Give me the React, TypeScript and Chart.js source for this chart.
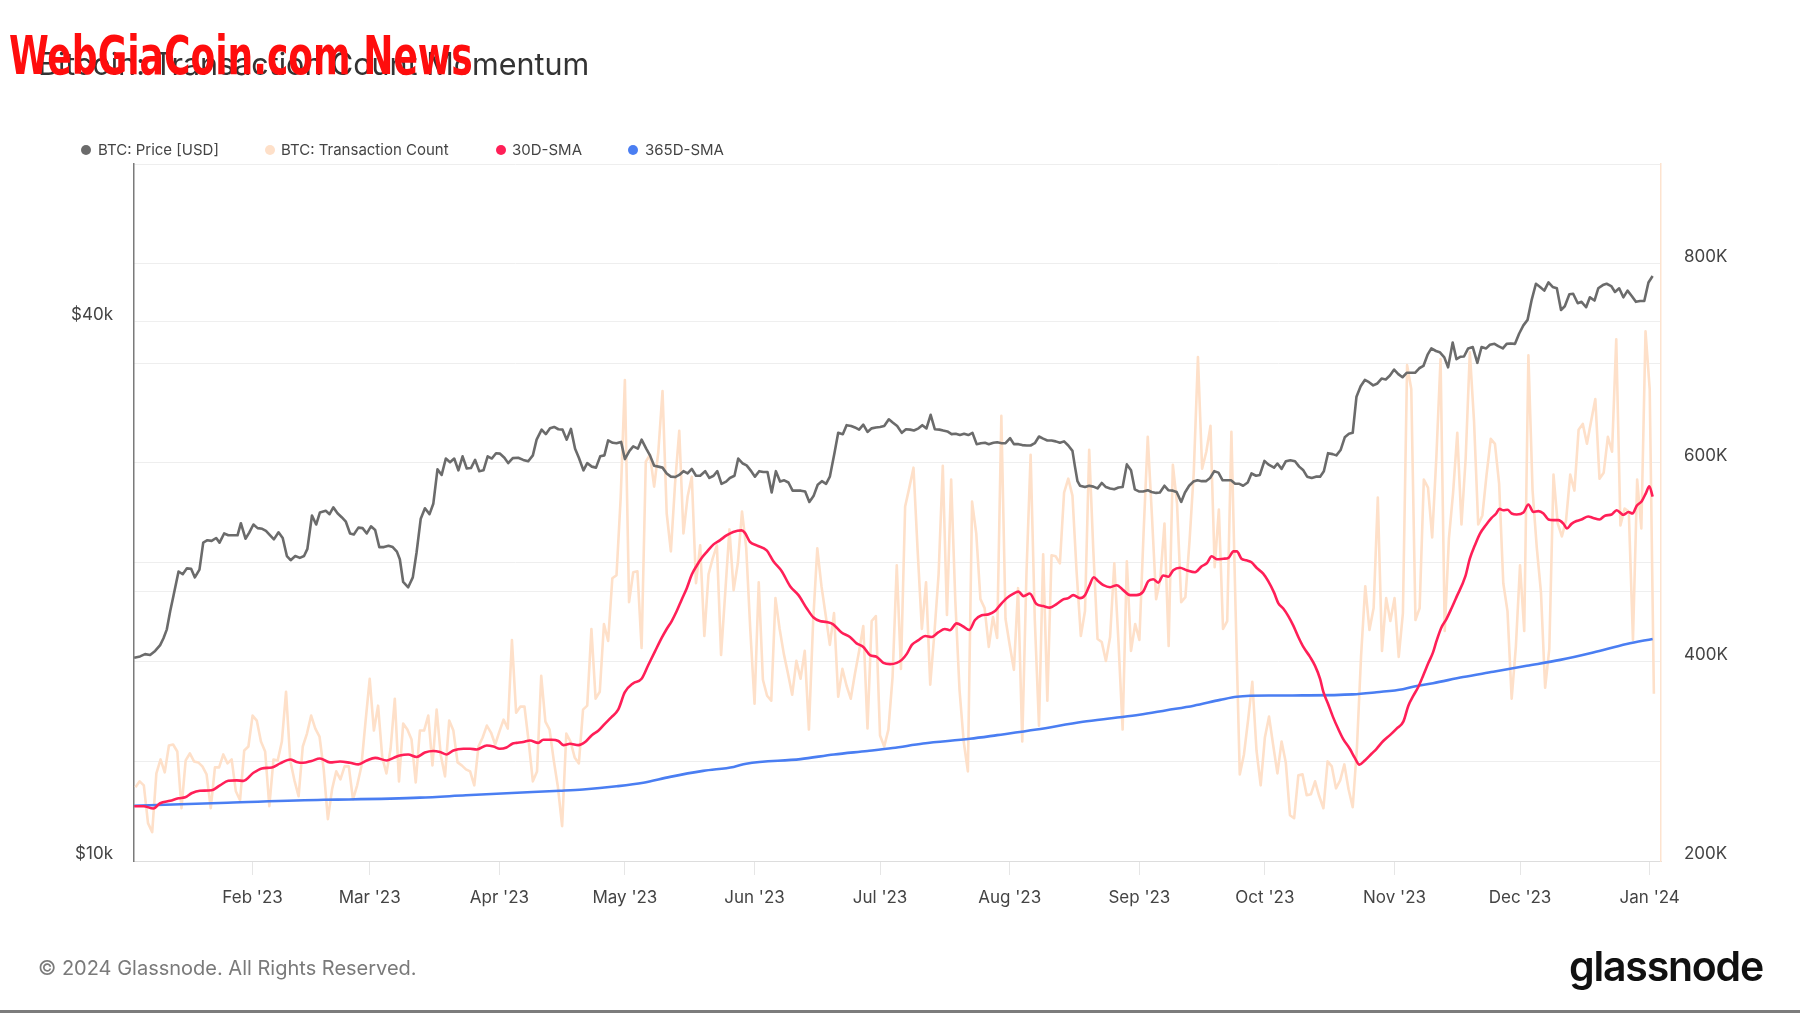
import React, { useEffect, useRef } from "react";
import { Chart, registerables } from "chart.js";

Chart.register(...registerables);

// x values are day offsets from 1 Jan 2023 (0 = Jan 1 2023, 365 = Jan 1 2024)
const monthTickDays = [31, 59, 90, 120, 151, 181, 212, 243, 273, 304, 334, 365];
const monthTickLabels = ["Feb '23", "Mar '23", "Apr '23", "May '23", "Jun '23", "Jul '23", "Aug '23", "Sep '23", "Oct '23", "Nov '23", "Dec '23", "Jan '24"];

// left axis (price, $k, log scale)
const priceTickValues = [10, 20, 40];
const priceTickLabels = ["$10k", "", "$40k"];
// right axis (transaction count, thousands)
const txTickValues = [200, 300, 400, 500, 600, 700, 800, 900];
const txTickLabels = ["200K", "", "400K", "", "600K", "", "800K", ""];

const seriesNames = ["BTC: Price [USD]", "BTC: Transaction Count", "30D-SMA", "365D-SMA"];

// BTC price in $k
const priceDays = [
  2.7, 4.1, 5.3, 6.5, 7.7, 8.9, 9.7, 10.5, 11.3, 12.1, 13.3, 14.3, 15.3, 16.3, 17.2, 18.3, 19.2, 20.2, 21.2, 22.3,
  23.1, 24.2, 25.2, 26.4, 27.4, 28.2, 29.3, 30.2, 31.2, 32.2, 33.3, 34.2, 35.2, 36.1, 37.2, 38.2, 39.2, 40.1, 41.2, 42.3,
  43.3, 44.1, 45.2, 46.2, 47.1, 48.5, 49.4, 50.3, 51.3, 52.3, 53.3, 54.3, 55.2, 56.3, 57.3, 58.3, 59.3, 60.3, 61.3, 62.4,
  63.5, 64.5, 65.5, 66.2, 67.0, 68.2, 69.3, 70.2, 71.2, 72.2, 73.3, 74.2, 75.2, 76.2, 77.2, 78.2, 79.2, 80.2, 81.2, 82.2,
  83.2, 84.2, 85.2, 86.2, 87.2, 88.2, 89.2, 90.1, 91.2, 92.1, 93.2, 94.5, 95.7, 96.9, 98.0, 98.9, 100.1, 101.1, 102.1, 103.1,
  104.1, 105.1, 106.1, 107.1, 108.1, 109.0, 110.1, 111.0, 112.1, 113.1, 114.1, 115.1, 116.0, 117.1, 118.0, 119.1, 120.0, 121.1, 122.0, 123.1,
  124.0, 125.1, 126.0, 127.0, 128.0, 129.0, 130.0, 131.0, 132.0, 133.0, 134.0, 135.0, 136.0, 137.0, 138.0, 139.2, 140.2, 141.2, 142.1, 143.1,
  144.2, 145.1, 146.2, 147.1, 148.2, 149.1, 150.2, 151.1, 152.1, 153.1, 154.1, 155.1, 156.1, 157.1, 158.1, 159.1, 160.1, 161.1, 162.1, 163.1,
  164.1, 165.1, 166.1, 167.1, 168.1, 169.0, 170.1, 171.0, 172.1, 173.0, 174.1, 175.0, 176.0, 177.0, 178.0, 179.0, 180.0, 181.0, 182.0, 183.1,
  184.1, 185.1, 186.2, 187.2, 188.2, 189.1, 190.2, 191.1, 192.1, 193.1, 194.1, 195.2, 196.1, 197.1, 198.1, 199.1, 200.1, 201.1, 202.1, 203.1,
  204.1, 205.1, 206.1, 207.0, 208.1, 209.0, 210.1, 211.0, 212.1, 213.0, 214.1, 215.0, 216.1, 217.0, 218.0, 219.0, 220.0, 221.0, 222.0, 223.0,
  224.0, 225.0, 226.0, 227.0, 227.6, 228.2, 228.8, 230.0, 231.0, 232.0, 233.0, 234.0, 235.0, 236.0, 237.0, 238.0, 239.0, 240.0, 241.0, 241.9,
  243.0, 243.9, 245.0, 245.9, 247.0, 247.9, 249.0, 249.9, 251.0, 251.9, 253.0, 253.9, 254.9, 255.9, 256.9, 257.9, 258.9, 259.9, 260.9, 261.9,
  262.9, 263.9, 264.9, 265.9, 266.9, 267.8, 268.9, 269.8, 270.9, 271.8, 272.9, 273.8, 275.2, 276.0, 277.0, 278.0, 279.1, 280.2, 281.2, 282.2,
  283.1, 284.2, 285.2, 286.2, 287.1, 288.1, 289.2, 290.1, 291.1, 292.1, 293.1, 294.0, 294.9, 295.9, 296.9, 297.9, 298.9, 299.9, 300.9, 301.9,
  302.9, 303.9, 304.9, 305.9, 306.9, 307.9, 308.9, 309.9, 310.9, 311.9, 312.8, 313.9, 314.8, 315.9, 316.8, 317.9, 318.8, 319.8, 320.6, 321.6,
  322.7, 323.8, 324.8, 325.9, 326.8, 327.9, 328.8, 329.9, 330.8, 331.8, 332.8, 333.8, 334.8, 335.8, 336.8, 337.8, 338.8, 339.8, 340.8, 341.8,
  342.8, 343.8, 344.7, 345.8, 346.7, 347.8, 348.7, 349.8, 350.7, 351.8, 352.7, 353.8, 354.7, 355.8, 356.7, 357.7, 358.7, 359.7, 360.7, 361.7,
  362.7, 363.7, 364.7, 365.7,
];
const priceUsdK = [
  16.86, 16.92, 17.02, 16.98, 17.16, 17.42, 17.73, 18.14, 19.0, 19.79, 21.05, 20.9, 21.22, 21.2, 20.73, 21.15, 22.67, 22.81, 22.77, 22.94,
  22.67, 23.21, 23.1, 23.1, 23.1, 23.83, 22.9, 23.26, 23.75, 23.53, 23.49, 23.37, 23.1, 22.86, 23.28, 22.94, 21.9, 21.67, 21.9, 21.8,
  21.9, 22.31, 24.31, 23.75, 24.5, 24.6, 24.39, 24.82, 24.45, 24.2, 23.92, 23.21, 23.15, 23.56, 23.53, 23.21, 23.64, 23.42, 22.41, 22.41,
  22.49, 22.41, 22.15, 21.72, 20.49, 20.21, 20.73, 22.1, 24.11, 24.76, 24.39, 25.05, 27.37, 26.98, 28.14, 27.88, 28.14, 27.3, 28.3, 27.43,
  27.46, 28.04, 27.24, 27.3, 28.3, 28.14, 28.53, 28.5, 28.2, 27.81, 28.17, 28.2, 28.04, 27.94, 28.37, 29.54, 30.31, 29.96, 30.41, 30.52,
  30.34, 30.31, 29.54, 30.37, 28.86, 28.2, 27.3, 27.81, 27.56, 27.49, 28.3, 28.37, 29.48, 29.3, 29.27, 29.37, 28.1, 28.7, 29.03, 28.86,
  29.54, 28.86, 28.37, 27.62, 27.56, 27.49, 27.08, 26.86, 26.83, 26.98, 27.24, 27.08, 27.4, 26.92, 26.92, 27.24, 26.77, 26.92, 27.24, 26.37,
  26.52, 26.77, 26.92, 28.14, 27.78, 27.65, 27.24, 26.86, 27.24, 27.18, 27.18, 25.79, 27.24, 26.52, 26.61, 26.46, 25.91, 25.91, 25.91, 25.85,
  25.17, 25.55, 26.31, 26.55, 26.37, 26.86, 28.53, 30.06, 29.96, 30.66, 30.59, 30.48, 30.31, 30.7, 30.13, 30.41, 30.48, 30.52, 30.59, 31.13,
  30.85, 30.59, 30.06, 30.34, 30.31, 30.24, 30.41, 30.66, 30.41, 31.49, 30.34, 30.31, 30.24, 30.17, 29.96, 29.99, 29.89, 29.99, 29.89, 30.06,
  29.2, 29.27, 29.3, 29.2, 29.3, 29.34, 29.27, 29.27, 29.65, 29.2, 29.2, 29.13, 29.1, 29.1, 29.27, 29.78, 29.62, 29.48, 29.48, 29.41,
  29.3, 29.41, 29.1, 28.7, 27.56, 26.55, 26.24, 26.15, 26.24, 26.18, 26.06, 26.43, 26.15, 26.06, 26.0, 26.12, 26.15, 27.72, 27.3, 26.0,
  25.85, 25.85, 25.94, 25.82, 25.76, 25.79, 26.24, 25.94, 25.91, 25.82, 25.17, 25.79, 26.24, 26.52, 26.61, 26.55, 26.55, 26.77, 27.24, 27.14,
  26.61, 26.61, 26.61, 26.37, 26.37, 26.24, 26.46, 27.08, 26.92, 26.98, 27.97, 27.72, 27.49, 27.78, 27.4, 27.94, 28.01, 27.94, 27.56, 27.3,
  26.86, 26.77, 26.86, 26.86, 27.24, 28.53, 28.46, 28.37, 28.76, 29.72, 29.99, 30.06, 32.99, 33.88, 34.44, 34.24, 33.96, 34.13, 34.56, 34.48,
  34.84, 35.37, 34.96, 34.68, 35.08, 35.08, 35.08, 35.49, 35.7, 36.75, 37.35, 37.1, 36.99, 36.5, 35.57, 37.92, 36.33, 36.56, 36.58, 37.35,
  37.48, 35.99, 37.48, 37.35, 37.7, 37.79, 37.57, 37.35, 37.79, 37.83, 37.79, 38.81, 39.63, 40.19, 42.34, 44.1, 43.74, 43.33, 44.25, 43.74,
  43.59, 41.23, 41.62, 42.93, 42.98, 41.95, 42.1, 41.52, 42.59, 42.24, 43.59, 43.95, 44.1, 43.84, 43.18, 43.59, 42.59, 43.33, 42.74, 42.1,
  42.19, 42.19, 44.25, 44.98,
];

// BTC daily transaction count in thousands, one value per day starting 3 Jan 2023
const txFirstDay = 3;
const txCountK = [
  274, 280, 276, 238, 229, 288, 302, 289, 316, 317, 310, 253, 301, 308, 300, 299, 295, 287, 253, 294,
  294, 307, 298, 302, 270, 261, 311, 315, 346, 341, 320, 310, 255, 302, 301, 320, 370, 301, 281, 265,
  315, 328, 346, 333, 325, 292, 242, 272, 290, 282, 295, 295, 262, 276, 295, 340, 383, 331, 356, 304,
  288, 313, 363, 280, 338, 332, 322, 279, 331, 331, 346, 296, 352, 306, 285, 341, 331, 299, 296, 292,
  290, 276, 315, 324, 336, 329, 317, 330, 342, 333, 422, 349, 355, 355, 320, 280, 290, 386, 340, 332,
  301, 274, 235, 328, 320, 304, 298, 352, 356, 433, 363, 370, 438, 421, 484, 487, 565, 683, 460, 490,
  491, 414, 601, 608, 576, 611, 672, 549, 511, 579, 632, 529, 566, 586, 479, 517, 426, 488, 504, 517,
  407, 470, 533, 472, 499, 551, 515, 431, 358, 480, 382, 366, 361, 464, 433, 408, 388, 367, 401, 383,
  411, 332, 440, 514, 476, 447, 417, 449, 365, 393, 376, 363, 388, 411, 436, 333, 441, 446, 326, 315,
  332, 385, 497, 393, 556, 575, 595, 511, 433, 480, 377, 429, 488, 597, 447, 583, 461, 372, 320, 290,
  561, 529, 463, 454, 415, 445, 424, 647, 443, 417, 392, 474, 320, 488, 608, 442, 336, 508, 361, 507,
  506, 499, 570, 584, 567, 490, 426, 451, 613, 511, 423, 420, 401, 425, 499, 420, 332, 501, 411, 438,
  422, 529, 626, 547, 463, 483, 539, 416, 598, 559, 460, 465, 522, 590, 706, 594, 611, 637, 495, 553,
  433, 441, 631, 452, 287, 307, 342, 380, 311, 276, 324, 345, 316, 288, 320, 299, 246, 243, 286, 287,
  266, 267, 280, 265, 253, 300, 295, 273, 281, 297, 272, 254, 313, 406, 476, 432, 454, 565, 411, 464,
  441, 464, 405, 449, 698, 674, 442, 454, 583, 575, 525, 606, 704, 431, 524, 570, 630, 538, 604, 711,
  642, 538, 547, 588, 624, 619, 579, 479, 451, 363, 415, 497, 431, 708, 572, 515, 470, 374, 413, 588,
  539, 526, 542, 588, 572, 633, 639, 619, 642, 664, 584, 590, 626, 611, 724, 537, 554, 551, 422, 583,
  534, 732, 674, 368,
];

// 30-day SMA of transaction count, thousands
const sma30Days = [
  2.7, 4.9, 7.3, 8.9, 11.3, 13.3, 14.9, 16.4, 18.4, 21.2, 23.2, 25.2, 27.2, 28.8, 31.2, 33.2, 35.6, 37.6, 40.0, 41.5,
  43.1, 45.1, 47.1, 49.5, 51.9, 54.3, 56.3, 58.3, 60.3, 63.1, 64.7, 66.2, 68.2, 70.2, 72.2, 74.2, 75.8, 77.4, 79.0, 81.4,
  83.0, 84.6, 87.0, 88.6, 90.1, 91.7, 93.2, 94.1, 95.7, 97.3, 99.3, 100.5, 102.5, 104.1, 105.3, 106.9, 108.9, 110.5, 112.1, 113.7,
  115.2, 116.8, 118.4, 120.0, 122.0, 124.0, 125.6, 127.2, 128.8, 130.0, 131.2, 132.4, 133.6, 134.8, 136.0, 137.2, 138.4, 139.6, 141.2, 142.7,
  144.3, 145.9, 147.9, 148.7, 149.9, 151.5, 153.9, 155.5, 157.5, 159.5, 161.5, 163.5, 165.1, 166.6, 168.2, 169.8, 171.8, 173.8, 175.4, 177.0,
  178.6, 180.2, 181.8, 183.4, 185.0, 186.2, 187.4, 188.6, 190.2, 191.8, 193.3, 194.9, 196.5, 197.7, 199.3, 200.9, 202.3, 203.7, 205.3, 206.9,
  208.5, 209.7, 211.3, 212.9, 214.1, 215.3, 216.8, 218.4, 220.0, 221.6, 223.2, 224.8, 226.0, 227.2, 228.8, 230.0, 231.0, 232.1, 233.2, 234.4,
  236.0, 237.6, 239.2, 240.8, 242.3, 243.9, 245.1, 246.3, 247.5, 248.7, 249.9, 251.1, 252.7, 254.3, 256.3, 257.9, 259.1, 260.3, 261.5, 263.1,
  264.3, 265.5, 266.3, 267.4, 268.6, 269.8, 271.0, 272.6, 273.8, 275.2, 276.2, 277.4, 278.6, 279.8, 281.0, 282.2, 283.8, 285.0, 286.2, 287.0,
  288.1, 289.3, 290.5, 291.7, 293.3, 294.5, 295.6, 296.9, 298.5, 299.7, 301.3, 302.9, 304.5, 306.1, 307.3, 308.5, 309.7, 310.9, 312.1, 313.2,
  314.0, 315.2, 316.4, 317.6, 318.8, 320.9, 322.0, 323.2, 324.4, 325.9, 327.2, 328.3, 329.1, 330.0, 331.0, 332.0, 333.2, 334.8, 336.0, 337.2,
  338.4, 339.6, 340.8, 342.0, 343.2, 344.4, 345.2, 346.3, 347.5, 348.7, 350.3, 351.5, 353.0, 354.3, 355.9, 357.1, 358.7, 359.9, 360.9, 361.9,
  363.1, 364.1, 364.9, 365.7,
];
const sma30K = [
  255, 255, 252.7, 258, 260.5, 263, 264, 268, 270.5, 271, 276, 280.5, 281, 280.5, 288.6, 293, 294, 298, 302, 299.5,
  298.6, 300.5, 303, 299, 300, 298.6, 297, 301, 303.6, 301, 303.6, 306, 307, 304.5, 309, 310.5, 309.5, 307, 311, 312.7,
  312.7, 312, 316, 315, 312.7, 314, 318, 318.6, 319.5, 321, 318.6, 321.8, 321.8, 320.5, 316.4, 317.7, 316.4, 319.5, 326.4, 331,
  337.7, 344.5, 352, 369.5, 378.6, 383, 396.8, 410.5, 424, 433, 441, 451, 462.7, 474, 487.7, 496.8, 504.5, 510.5, 518, 522,
  527, 530.5, 532, 529.5, 520.5, 517, 512, 501, 491, 476, 467, 453.6, 444.5, 441, 440, 437.7, 429.5, 425, 418.6, 415,
  406.8, 405, 399, 397.7, 399, 402, 408, 417, 421.8, 426, 425, 429.5, 433, 431.8, 438.6, 435.5, 432, 442, 446.8, 447.7,
  451, 457, 464, 468.6, 470.5, 466, 468.6, 458, 456, 454.5, 458, 462.7, 464, 467, 464, 467, 476, 485, 480.9, 477,
  475, 477, 471.8, 467, 467, 470.5, 480.9, 483, 479.5, 486.8, 485.5, 492, 494.5, 492, 490, 496, 499, 506, 503, 503.6,
  504.5, 511, 511, 503.6, 502, 500, 494.5, 488.6, 481, 469.5, 459, 453.6, 446, 436.4, 425, 415, 405, 396, 383, 369.5,
  358, 344.5, 333, 322.7, 312.7, 303.6, 296.8, 301, 307.7, 312.7, 320.5, 326.4, 333, 340, 356, 366, 375, 386.8, 399, 409.5,
  420.5, 434.5, 443, 453.6, 465, 485.5, 503.6, 517, 528.6, 537.7, 544.5, 549, 553.6, 552.3, 552.7, 549, 548, 550, 558, 550.5,
  551.4, 549, 543, 542.3, 542.3, 538.6, 534, 538.6, 541.4, 543, 546, 544.5, 543, 546.8, 548, 552.3, 547.7, 550.5, 549, 556.8,
  561.4, 569.5, 576.4, 566,
];

// 365-day SMA of transaction count, thousands
const sma365Days = [
  2.7, 25, 48, 54, 71, 82, 93, 104.5, 110, 118, 124.4, 130.8, 138.7, 146, 149, 162, 170, 178, 184, 191.3,
  202.5, 209, 218.4, 229.5, 236.8, 243, 249.5, 256, 262.3, 266.3, 275, 282, 294, 299.7, 306, 309, 313.2, 320.4, 327.6, 335.6,
  343.6, 351.5, 359.5, 365.7,
];
const sma365K = [
  255.5, 258.5, 261.5, 261.8, 263.6, 266, 268.3, 270.5, 271.8, 275, 278.6, 284.5, 290.5, 294.5, 297.7, 302.3, 307, 310.5, 313.4, 318,
  322.7, 326.4, 332, 339.8, 343.6, 346.8, 351.4, 356, 361.8, 365, 366.2, 366.3, 367.3, 369.5, 372.5, 375.5, 378.6, 384.7, 390, 396,
  402, 409.5, 418, 423,
];

const COLORS = {
  price: "#6b6b6b",
  tx: "#fee0c9",
  sma30: "#ff1f57",
  sma365: "#4a7ef2",
};

const FONT = "Inter, 'Noto Sans', Roboto, sans-serif";
const WATERMARK_WIDTH = 464;

function pts(xs: number[], ys: number[]) {
  return xs.map((x, i) => ({ x, y: ys[i] }));
}

export default function App() {
  const canvasRef = useRef<HTMLCanvasElement | null>(null);
  const markRef = useRef<HTMLDivElement | null>(null);

  useEffect(() => {
    const mark = markRef.current;
    if (mark) {
      const w = mark.scrollWidth;
      if (w > 0) mark.style.transform = `scaleX(${WATERMARK_WIDTH / w})`;
    }
  }, []);

  useEffect(() => {
    const canvas = canvasRef.current;
    if (!canvas) return;
    const txDays = txCountK.map((_, i) => txFirstDay + i);
    const tickFont = { family: FONT, size: 17 };

    const chart = new Chart(canvas, {
      type: "line",
      data: {
        datasets: [
          {
            label: seriesNames[0],
            data: pts(priceDays, priceUsdK),
            yAxisID: "yPrice",
            borderColor: COLORS.price,
            borderWidth: 2.6,
            pointRadius: 0,
            tension: 0,
            borderJoinStyle: "round",
          },
          {
            label: seriesNames[2],
            data: pts(sma30Days, sma30K),
            yAxisID: "yTx",
            borderColor: COLORS.sma30,
            borderWidth: 2.6,
            pointRadius: 0,
            cubicInterpolationMode: "monotone",
            borderJoinStyle: "round",
          },
          {
            label: seriesNames[3],
            data: pts(sma365Days, sma365K),
            yAxisID: "yTx",
            borderColor: COLORS.sma365,
            borderWidth: 2.6,
            pointRadius: 0,
            cubicInterpolationMode: "monotone",
            borderJoinStyle: "round",
          },
          {
            label: seriesNames[1],
            data: pts(txDays, txCountK),
            yAxisID: "yTx",
            borderColor: COLORS.tx,
            borderWidth: 2.6,
            pointRadius: 0,
            tension: 0,
            borderJoinStyle: "round",
          },
        ],
      },
      options: {
        animation: false,
        responsive: false,
        maintainAspectRatio: false,
        events: [],
        layout: { padding: { top: 164, left: 0, right: 0, bottom: 0 } },
        plugins: {
          legend: { display: false },
          title: { display: false },
          tooltip: { enabled: false },
        },
        scales: {
          x: {
            type: "linear",
            min: 2.65,
            max: 367.7,
            afterBuildTicks: (axis: any) => {
              axis.ticks = monthTickDays.map((v) => ({ value: v }));
            },
            afterFit: (axis: any) => {
              axis.height = 152;
            },
            ticks: {
              autoSkip: false,
              maxRotation: 0,
              padding: 13,
              color: "#444",
              font: tickFont,
              callback: (v: any) => {
                const i = monthTickDays.indexOf(Number(v));
                return i >= 0 ? monthTickLabels[i] : "";
              },
            },
            grid: {
              drawOnChartArea: false,
              drawTicks: true,
              tickLength: 14,
              color: "#e6e6e6",
            },
            border: { display: true, color: "#dddddd", width: 1 },
          },
          yPrice: {
            type: "logarithmic",
            position: "left",
            min: 10,
            max: 60,
            afterBuildTicks: (axis: any) => {
              axis.ticks = priceTickValues.map((v) => ({ value: v }));
            },
            afterFit: (axis: any) => {
              axis.width = 134;
            },
            ticks: {
              autoSkip: false,
              padding: 21,
              labelOffset: -7,
              color: "#444",
              font: tickFont,
              callback: (v: any) => {
                const i = priceTickValues.indexOf(Number(v));
                return i >= 0 ? priceTickLabels[i] : "";
              },
            },
            grid: { drawTicks: false, color: "#efefef", lineWidth: 1 },
            border: { display: true, color: "#7a7a7a", width: 1.5 },
          },
          yTx: {
            type: "linear",
            position: "right",
            min: 200,
            max: 900,
            afterBuildTicks: (axis: any) => {
              axis.ticks = txTickValues.map((v) => ({ value: v }));
            },
            afterFit: (axis: any) => {
              axis.width = 139;
            },
            ticks: {
              autoSkip: false,
              padding: 23,
              labelOffset: -7,
              color: "#444",
              font: tickFont,
              callback: (v: any) => {
                const i = txTickValues.indexOf(Number(v));
                return i >= 0 ? txTickLabels[i] : "";
              },
            },
            grid: { drawTicks: false, color: "#eeeeee", lineWidth: 1 },
            border: { display: true, color: "#fde3cf", width: 1.5 },
          },
        },
      },
    } as any);

    return () => chart.destroy();
  }, []);

  const legendItems = [
    { dot: 86, text: 98, color: COLORS.price, label: seriesNames[0] },
    { dot: 270, text: 281, color: COLORS.tx, label: seriesNames[1] },
    { dot: 501, text: 512, color: COLORS.sma30, label: seriesNames[2] },
    { dot: 633, text: 645, color: COLORS.sma365, label: seriesNames[3] },
  ];

  return (
    <div
      style={{
        position: "fixed",
        left: 0,
        top: 0,
        width: 1800,
        height: 1013,
        background: "#ffffff",
        overflow: "hidden",
        fontFamily: FONT,
      }}
    >
      <canvas
        ref={canvasRef}
        width={1800}
        height={1013}
        style={{ position: "absolute", left: 0, top: 0, width: 1800, height: 1013 }}
      />
      <div
        style={{
          position: "absolute",
          left: 38,
          top: 47,
          fontSize: 30.5,
          lineHeight: "34px",
          color: "#333333",
          whiteSpace: "nowrap",
        }}
      >
        Bitcoin: Transaction Count Momentum
      </div>
      <div
        ref={markRef}
        style={{
          position: "absolute",
          left: 9,
          top: 29,
          fontFamily: "'Liberation Sans Narrow', 'DejaVu Sans Condensed', 'Liberation Sans', sans-serif",
          fontWeight: 700,
          fontSize: 54,
          lineHeight: "54px",
          color: "#ff0d0d",
          whiteSpace: "nowrap",
          transformOrigin: "0 0",
          display: "inline-block",
        }}
      >
        WebGiaCoin.com News
      </div>
      {legendItems.map((it) => (
        <React.Fragment key={it.label}>
          <div
            style={{
              position: "absolute",
              left: it.dot - 5,
              top: 145,
              width: 10,
              height: 10,
              borderRadius: 5,
              background: it.color,
            }}
          />
          <div
            style={{
              position: "absolute",
              left: it.text,
              top: 141,
              fontSize: 15,
              lineHeight: "18px",
              color: "#444444",
              whiteSpace: "nowrap",
            }}
          >
            {it.label}
          </div>
        </React.Fragment>
      ))}
      <div
        style={{
          position: "absolute",
          left: 38,
          top: 955,
          fontSize: 20,
          lineHeight: "26px",
          color: "#7a7a7a",
          whiteSpace: "nowrap",
        }}
      >
        © 2024 Glassnode. All Rights Reserved.
      </div>
      <div
        style={{
          position: "absolute",
          left: 1569,
          top: 946,
          fontSize: 41,
          lineHeight: "41px",
          fontWeight: 600,
          color: "#111111",
          letterSpacing: "-1.2px",
          whiteSpace: "nowrap",
        }}
      >
        glassnode
      </div>
      <div
        style={{
          position: "absolute",
          left: 0,
          top: 1010,
          width: 1800,
          height: 3,
          background: "#7c7c7c",
        }}
      />
    </div>
  );
}
